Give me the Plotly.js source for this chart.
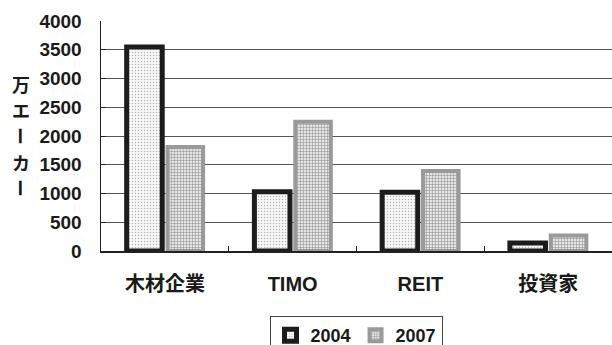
<!DOCTYPE html>
<html>
<head>
<meta charset="utf-8">
<script src="https://cdn.plot.ly/plotly-3.0.1.min.js"></script>
<style>
  html, body { margin: 0; padding: 0; background: #fff; }
  #chart { width: 612px; height: 345px; }
</style>
</head>
<body>
<div id="chart"></div>
<script>
// Timberland ownership by owner type (万エーカー)
const categories = ['木材企業', 'TIMO', 'REIT', '投資家'];
const series2004 = [3550, 1030, 1020, 140];
const series2007 = [1810, 2250, 1390, 270];
const seriesNames = ['2004', '2007'];
const yTitleChars = ['万', 'エ', 'ー', 'カ', 'ー'];

const latin = 'Liberation Sans, Arial, Noto Sans CJK JP, sans-serif';
const cjk = 'Noto Sans CJK JP, Liberation Sans, sans-serif';

const traces = [
  {
    type: 'bar',
    name: seriesNames[0],
    x: categories,
    y: series2004,
    marker: {
      color: '#f4f4f4',
      line: { color: '#1c1c1c', width: 5 },
      pattern: { shape: '.', fgcolor: '#b4b4b4', bgcolor: '#f7f7f7', size: 3, solidity: 0.18 }
    },
    hoverinfo: 'skip'
  },
  {
    type: 'bar',
    name: seriesNames[1],
    x: categories,
    y: series2007,
    marker: {
      color: '#cccccc',
      line: { color: '#9a9a9a', width: 4 },
      pattern: { shape: '+', fgcolor: '#8a8a8a', bgcolor: '#e4e4e4', size: 3, solidity: 0.3 }
    },
    hoverinfo: 'skip'
  }
];

// vertical axis title: characters stacked top to bottom, long-vowel marks turned upright
const yTitleY = [84, 110, 136, 162, 188];
const annotations = yTitleChars.map((ch, i) => ({
  xref: 'paper', yref: 'paper',
  x: (21 - 101) / 511,
  y: (251 - yTitleY[i]) / 230,
  xanchor: 'center', yanchor: 'middle',
  text: ch,
  showarrow: false,
  textangle: ch === 'ー' ? 90 : 0,
  font: { family: cjk, size: 18, weight: 'bold', color: '#1a1a1a' }
}));

const layout = {
  width: 612,
  height: 345,
  margin: { l: 101, r: 0, t: 21, b: 94, pad: 0, autoexpand: false },
  paper_bgcolor: '#ffffff',
  plot_bgcolor: '#ffffff',
  barmode: 'group',
  bargap: 0.36,
  bargroupgap: 0.13,
  showlegend: true,
  legend: {
    orientation: 'h',
    xref: 'container',
    yref: 'container',
    x: 356 / 612,
    xanchor: 'center',
    y: (345 - 316) / 345,
    yanchor: 'top',
    bordercolor: '#444444',
    borderwidth: 1,
    bgcolor: '#ffffff',
    font: { family: latin, size: 18, weight: 'bold', color: '#1a1a1a' },
    itemclick: false,
    itemdoubleclick: false
  },
  xaxis: {
    type: 'category',
    showline: true,
    linecolor: '#222222',
    linewidth: 1.5,
    ticks: 'inside',
    tickson: 'boundaries',
    ticklen: 5,
    tickcolor: '#222222',
    showgrid: false,
    tickfont: { family: latin, size: 20, weight: 'bold', color: '#1a1a1a' },
    ticklabelstandoff: 14,
    automargin: false,
    fixedrange: true
  },
  yaxis: {
    range: [0, 4000],
    dtick: 500,
    tick0: 0,
    showline: true,
    linecolor: '#222222',
    linewidth: 1.5,
    ticks: 'inside',
    ticklen: 5,
    tickcolor: '#222222',
    showgrid: true,
    gridcolor: '#555555',
    gridwidth: 1,
    zeroline: false,
    tickfont: { family: latin, size: 19, weight: 'bold', color: '#1a1a1a' },
    ticklabelstandoff: 14,
    automargin: false,
    fixedrange: true
  },
  annotations: annotations
};

Plotly.newPlot('chart', traces, layout, { displayModeBar: false, staticPlot: true });
</script>
</body>
</html>
